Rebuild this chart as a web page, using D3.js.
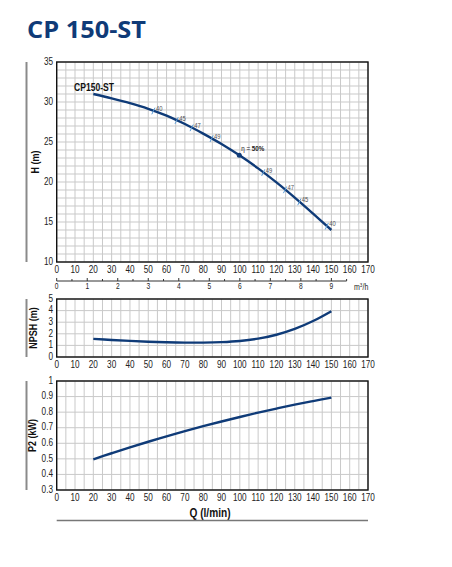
<!DOCTYPE html>
<html>
<head>
<meta charset="utf-8">
<script src="https://cdn.jsdelivr.net/npm/d3@7"></script>
<style>
  html, body { margin: 0; padding: 0; background: #fff; }
  svg { display: block; }
  text { font-family: "Liberation Sans", Arial, sans-serif; fill: #222; }
</style>
</head>
<body>
<svg id="chart" width="452" height="567"></svg>
<script>
// flow rate Q (l/min) used by all three curves
const flow = [20, 30, 40, 50, 60, 70, 80, 90, 100, 110, 120, 130, 140, 150];
// head H (m)
const head = [31.0, 30.45, 29.85, 29.15, 28.3, 27.25, 26.05, 24.75, 23.3, 21.7, 19.95, 18.05, 16.05, 14.0];
// NPSH (m)
const npsh = [1.56, 1.47, 1.39, 1.32, 1.27, 1.24, 1.24, 1.28, 1.38, 1.58, 1.92, 2.42, 3.1, 3.95];
// shaft power P2 (kW)
const power = [0.497, 0.536, 0.574, 0.610, 0.644, 0.678, 0.710, 0.740, 0.769, 0.797, 0.823, 0.848, 0.871, 0.893];

// efficiency marks along the head curve
const effFlow = [52.8, 65.5, 73.7, 84.6, 99.7, 112.8, 124.7, 132.5, 147.5];
const effLabel = ["40", "45", "47", "49", "50", "49", "47", "45", "40"];

const qTicks = d3.range(0, 171, 10);
const m3hTicks = d3.range(0, 10, 1);

const svg = d3.select("#chart");
const navy = "#0f3b78";
const SX = 0.78; // condensed look

const x = d3.scaleLinear().domain([0, 170]).range([56.7, 368]);

// place a text node at (px,py) squeezed horizontally
function put(sel, px, py, extra) {
  return sel.attr("transform", `translate(${px},${py})${extra || ""} scale(${SX},1)`);
}

const panels = [
  { label: "H (m)", values: head, domain: [10, 35], range: [262, 62], step: 1, ticks: d3.range(10, 36, 5), fmt: d3.format("d"), labelX: 36 },
  { label: "NPSH (m)", values: npsh, domain: [0, 5], range: [357, 299], step: 1, ticks: d3.range(0, 6, 1), fmt: d3.format("d"), labelX: 34 },
  { label: "P2 (kW)", values: power, domain: [0.3, 1], range: [490, 381], step: 0.1, ticks: d3.range(0.3, 1.001, 0.1), fmt: v => Math.abs(v - 1) < 1e-6 ? "1" : d3.format(".1f")(v), labelX: 33 }
];

// title
svg.append("text")
  .attr("x", 27).attr("y", 38)
  .attr("textLength", 119).attr("lengthAdjust", "spacingAndGlyphs")
  .style("font-family", "'Open Sans', 'Noto Sans', sans-serif")
  .style("font-weight", "700")
  .style("font-size", "24px")
  .style("fill", navy)
  .text("CP 150-ST");

panels.forEach(p => {
  const y = d3.scaleLinear().domain(p.domain).range(p.range);
  p.y = y;
  const g = svg.append("g");

  // grid
  g.selectAll(".vg").data(d3.range(0, 171, 5)).join("line")
    .attr("x1", d => x(d)).attr("x2", d => x(d))
    .attr("y1", y.range()[0]).attr("y2", y.range()[1])
    .attr("stroke", "#c9c9c9").attr("stroke-width", 1);
  const n = Math.round((p.domain[1] - p.domain[0]) / p.step);
  g.selectAll(".hg").data(d3.range(0, n + 1).map(i => p.domain[0] + i * p.step)).join("line")
    .attr("x1", x.range()[0]).attr("x2", x.range()[1])
    .attr("y1", d => y(d)).attr("y2", d => y(d))
    .attr("stroke", "#c9c9c9").attr("stroke-width", 1);

  // frame
  g.append("rect")
    .attr("x", x.range()[0]).attr("y", y.range()[1])
    .attr("width", x.range()[1] - x.range()[0])
    .attr("height", y.range()[0] - y.range()[1])
    .attr("fill", "none").attr("stroke", "#111").attr("stroke-width", 1.4);

  // y tick labels
  g.selectAll(".yl").data(p.ticks).join("text")
    .each(function(d) { put(d3.select(this), 53, y(d)); })
    .attr("text-anchor", "end").attr("dominant-baseline", "middle")
    .style("font-size", "10.5px")
    .text(p.fmt);

  // x tick labels
  g.selectAll(".xl").data(qTicks).join("text")
    .each(function(d) { put(d3.select(this), x(d), y.range()[0] + 8.5); })
    .attr("text-anchor", "middle").attr("dominant-baseline", "middle")
    .style("font-size", "10.5px")
    .text(d => d);

  // left gray bar + axis title
  g.append("line")
    .attr("x1", 26.5).attr("x2", 26.5)
    .attr("y1", y.range()[1]).attr("y2", y.range()[0])
    .attr("stroke", "#8a8a8a").attr("stroke-width", 2);
  const cy = (y.range()[0] + y.range()[1]) / 2;
  put(g.append("text"), p.labelX, cy, " rotate(-90)")
    .attr("text-anchor", "middle").attr("dominant-baseline", "middle")
    .style("font-size", "11.5px").style("font-weight", "700").style("fill", "#111")
    .text(p.label);

  // curve
  const line = d3.line().x((d, i) => x(flow[i])).y(d => y(d)).curve(d3.curveCatmullRom);
  g.append("path")
    .attr("d", line(p.values))
    .attr("fill", "none").attr("stroke", navy).attr("stroke-width", 2.4);
});

// efficiency marks on the head curve
const hp = panels[0];
const headAt = d3.scaleLinear().domain(flow).range(head);
const marks = svg.append("g");
effFlow.forEach((q, i) => {
  const cx = x(q), cy = hp.y(headAt(q));
  if (effLabel[i] === "50") {
    marks.append("circle").attr("cx", cx).attr("cy", cy).attr("r", 2.5).attr("fill", navy);
    const t = put(marks.append("text"), cx + 2, cy - 4)
      .style("font-size", "8px").style("fill", "#222");
    t.append("tspan").text("η = ");
    t.append("tspan").style("font-weight", "700").text("50%");
  } else {
    marks.append("line")
      .attr("x1", cx - 1.6).attr("y1", cy + 3.6)
      .attr("x2", cx + 1.6).attr("y2", cy - 3)
      .attr("stroke", "#5b9bd5").attr("stroke-width", 1);
    put(marks.append("text"), cx + 2.5, cy + 0.5)
      .style("font-size", "7.5px").style("fill", "#555")
      .text(effLabel[i]);
  }
});

// model name inside head chart
put(svg.append("text"), 74, 91)
  .style("font-size", "11px").style("font-weight", "700").style("fill", "#111")
  .text("CP150-ST");

// secondary m3/h axis
const m3 = d3.scaleLinear().domain([0, 170 * 0.06]).range(x.range());
const ax = svg.append("g");
ax.append("line")
  .attr("x1", m3(0)).attr("x2", m3(9.5))
  .attr("y1", 281).attr("y2", 281)
  .attr("stroke", "#333").attr("stroke-width", 1);
ax.selectAll(".mt").data(d3.range(0, 9.6, 0.5)).join("line")
  .attr("x1", d => m3(d)).attr("x2", d => m3(d))
  .attr("y1", 281).attr("y2", d => Number.isInteger(d) ? 278 : 279)
  .attr("stroke", "#333").attr("stroke-width", 1);
ax.selectAll(".ml").data(m3hTicks).join("text")
  .each(function(d) { put(d3.select(this), m3(d), 286.5); })
  .attr("text-anchor", "middle").attr("dominant-baseline", "middle")
  .style("font-size", "8.5px")
  .text(d => d);
const unit = put(ax.append("text"), 354, 289.5)
  .style("font-size", "9px");
unit.append("tspan").text("m");
unit.append("tspan").attr("dy", -3).style("font-size", "6px").text("3");
unit.append("tspan").attr("dy", 3).text("/h");

// Q axis title and rule
put(svg.append("text"), 210, 516.5)
  .attr("text-anchor", "middle")
  .style("font-size", "13px").style("font-weight", "700").style("fill", "#111")
  .text("Q (l/min)");
svg.append("line")
  .attr("x1", x.range()[0]).attr("x2", x.range()[1])
  .attr("y1", 520.5).attr("y2", 520.5)
  .attr("stroke", "#777").attr("stroke-width", 1.5);
</script>
</body>
</html>
